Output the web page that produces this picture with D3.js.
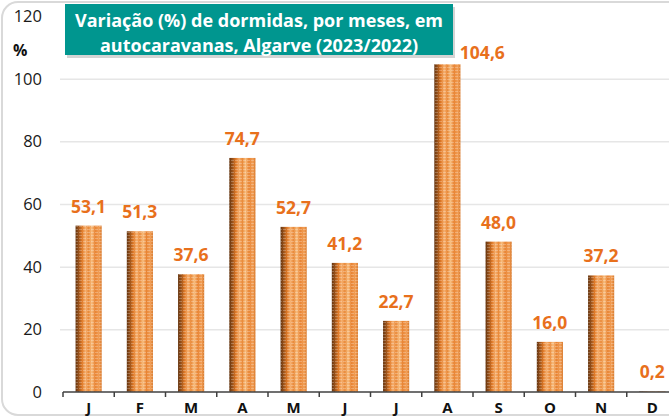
<!DOCTYPE html>
<html>
<head>
    <meta charset="utf-8">
    <style>
        body { margin: 0; background: #fff; }
        text { font-family: "Open Sans", Lato, sans-serif; }
        .grid line { stroke: #e6e6e6; stroke-width: 1.5px; }
        .grid path { display: none; }
    </style>
    <script src="https://d3js.org/d3.v7.min.js"></script>
</head>
<body>
    <div id="graph"></div>
    <script>
        var months = ["J", "F", "M", "A", "M", "J", "J", "A", "S", "O", "N", "D"];
        var values = [53.1, 51.3, 37.6, 74.7, 52.7, 41.2, 22.7, 104.6, 48.0, 16.0, 37.2, 0.2];
        var yTicks = [0, 20, 40, 60, 80, 100, 120];
        var titleLines = ["Variação (%) de dormidas, por meses, em", "autocaravanas, Algarve (2023/2022)"];

        var W = 669, H = 417;
        var margin = { top: 16, left: 63 };
        var width = 615;
        var height = 376;

        var svg = d3.select("#graph").append("svg")
            .attr("width", W)
            .attr("height", H);

        var defs = svg.append("defs");
        var grad = defs.append("linearGradient")
            .attr("id", "barGrad")
            .attr("x1", "0").attr("x2", "1").attr("y1", "0").attr("y2", "0");
        [[0, "#64340f"], [0.12, "#9a521a"], [0.25, "#e07a28"], [0.38, "#f6b070"],
         [0.5, "#e98a3a"], [0.62, "#f8be80"], [0.75, "#e88434"], [0.9, "#f2a058"], [1, "#d8782a"]]
            .forEach(function(s) {
                grad.append("stop").attr("offset", s[0]).attr("stop-color", s[1]);
            });

        var pat = defs.append("pattern")
            .attr("id", "barPat")
            .attr("patternUnits", "userSpaceOnUse")
            .attr("width", 4).attr("height", 3);
        pat.append("rect").attr("x", 0).attr("y", 0).attr("width", 3).attr("height", 1)
            .attr("fill", "#fff").attr("opacity", 0.25);

        // chart border
        svg.append("rect")
            .attr("x", 2).attr("y", 2)
            .attr("width", W + 20).attr("height", H - 4)
            .attr("rx", 16)
            .attr("fill", "#fff")
            .attr("stroke", "#d9d9d9")
            .attr("stroke-width", 2);

        var g = svg.append("g")
            .attr("transform", "translate(" + margin.left + "," + margin.top + ")");

        var x = d3.scaleBand().domain(d3.range(months.length)).range([0, width]).paddingInner(0.49).paddingOuter(0.245);
        var y = d3.scaleLinear().domain([0, 120]).range([height, 0]);

        g.append("g")
            .attr("class", "grid")
            .call(d3.axisLeft(y).tickValues(yTicks.slice(1, 6)).tickSize(-width).tickFormat(""))
            .call(function(s) { s.selectAll("line").attr("x1", -3); });

        // y tick labels
        g.selectAll(".ylab")
            .data(yTicks)
            .enter().append("text")
            .attr("class", "ylab")
            .attr("x", -21)
            .attr("y", function(d) { return y(d); })
            .attr("dy", "0.36em")
            .attr("text-anchor", "end")
            .attr("font-size", 16.5)
            .attr("fill", "#1a1a1a")
            .text(function(d) { return d; });

        svg.append("text")
            .attr("x", 13).attr("y", 56)
            .attr("font-size", 16).attr("font-weight", "bold")
            .attr("fill", "#111")
            .text("%");

        // bars
        var bars = g.selectAll(".bar")
            .data(values)
            .enter();
        bars.append("rect")
            .attr("x", function(d, i) { return x(i); })
            .attr("y", function(d) { return y(d); })
            .attr("width", x.bandwidth())
            .attr("height", function(d) { return height - y(d); })
            .attr("fill", "url(#barGrad)");
        bars.append("rect")
            .attr("x", function(d, i) { return x(i); })
            .attr("y", function(d) { return y(d); })
            .attr("width", x.bandwidth())
            .attr("height", function(d) { return height - y(d); })
            .attr("fill", "url(#barPat)");

        // value labels (the tallest one is pushed right of the title box)
        var titleBottom = 56 - margin.top;
        g.selectAll(".vlab")
            .data(values)
            .enter().append("text")
            .attr("x", function(d, i) {
                var cx = x(i) + x.bandwidth() / 2;
                return y(d) - 12 < titleBottom + 15 ? cx + 35 : cx;
            })
            .attr("y", function(d) {
                return y(d) - 12 < titleBottom + 15 ? y(d) - 5 : y(d) - 13;
            })
            .attr("text-anchor", "middle")
            .attr("font-size", 17.5)
            .attr("font-weight", "bold")
            .attr("fill", "#e8701c")
            .text(function(d) { return d.toFixed(1).replace(".", ","); });

        // x axis
        var step = x.step();
        var xAxis = g.append("g").attr("transform", "translate(0," + height + ")");
        xAxis.append("line")
            .attr("x1", 0).attr("x2", width)
            .attr("stroke", "#404040").attr("stroke-width", 1.5);
        xAxis.selectAll(".tk")
            .data(d3.range(months.length + 1))
            .enter().append("line")
            .attr("x1", function(i) { return i * step; })
            .attr("x2", function(i) { return i * step; })
            .attr("y1", 0).attr("y2", 5)
            .attr("stroke", "#404040").attr("stroke-width", 1.5);
        xAxis.selectAll(".mlab")
            .data(months)
            .enter().append("text")
            .attr("x", function(d, i) { return x(i) + x.bandwidth() / 2; })
            .attr("y", 21)
            .attr("text-anchor", "middle")
            .attr("font-size", 15)
            .attr("font-weight", "bold")
            .attr("fill", "#111")
            .text(function(d) { return d; });

        // title box
        var tb = svg.append("g");
        tb.append("rect")
            .attr("x", 67).attr("y", 7).attr("width", 388).attr("height", 51)
            .attr("fill", "#a0a0a0").attr("opacity", 0.45);
        tb.append("rect")
            .attr("x", 65).attr("y", 4).attr("width", 388).attr("height", 51)
            .attr("fill", "#00968f");
        tb.selectAll("text")
            .data(titleLines)
            .enter().append("text")
            .attr("x", 259)
            .attr("y", function(d, i) { return 27 + i * 25; })
            .attr("text-anchor", "middle")
            .attr("font-size", 18)
            .attr("font-weight", "bold")
            .attr("fill", "#fff")
            .text(function(d) { return d; });
    </script>
</body>
</html>
